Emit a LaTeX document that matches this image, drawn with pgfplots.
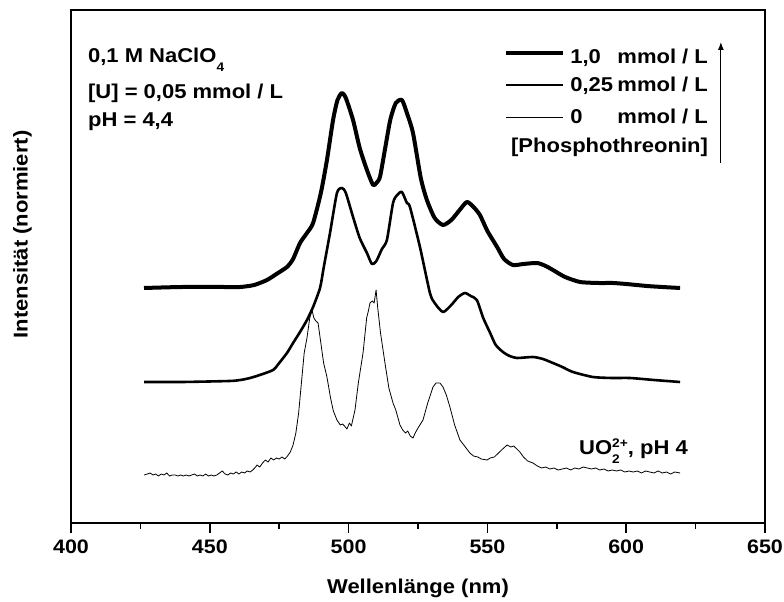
\documentclass[border=0pt]{standalone}
\usepackage{pgfplots}
\pgfplotsset{compat=1.18}
\usetikzlibrary{arrows.meta}
\usepackage{fontspec}
\setmainfont{Liberation Sans}[FakeStretch=1.1]

\newcommand{\lblfont}{\fontsize{20bp}{24bp}\selectfont\bfseries}
\newcommand{\tickfont}{\fontsize{19.5bp}{23bp}\selectfont\bfseries}
\newcommand{\scr}[1]{{\fontsize{12.5bp}{14bp}\selectfont #1}}
\newcommand{\lowidx}[1]{\raisebox{-9bp}{\scr{#1}}}
\newcommand{\highidx}[1]{\raisebox{7bp}{\scr{#1}}}

% Emission spectra, 1.0 mmol/L phosphothreonine (vertically offset)
\pgfplotstableread{
x y
426.3 2.35
440 2.36
455 2.36
461 2.36
466 2.38
470.6 2.43
474 2.49
477.8 2.56
480 2.64
482.5 2.80
485 2.90
487.2 3.00
490 3.30
492.2 3.63
494.4 4.03
496 4.23
497.6 4.30
499 4.25
501.6 4.03
504 3.75
506.6 3.53
508.8 3.38
510 3.40
511.3 3.46
513 3.72
515 4.03
517 4.20
519.2 4.23
521 4.10
523.2 3.90
526 3.45
528.2 3.23
531 3.05
534.0 2.98
537 3.03
540 3.13
542.6 3.21
545 3.16
547.3 3.08
550 2.92
553.5 2.76
556 2.64
559.2 2.58
563 2.59
567.9 2.60
571 2.57
573.6 2.53
578 2.46
583.4 2.41
590 2.40
595.2 2.40
600 2.39
607.5 2.37
613 2.36
619.4 2.35
}\tabHigh

% 0.25 mmol/L phosphothreonine
\pgfplotstableread{
x y
426.3 1.41
440 1.41
457 1.42
461 1.43
464.5 1.45
468 1.48
472.8 1.53
475 1.60
477.8 1.70
480 1.80
482.5 1.91
485 2.03
487.2 2.16
489.7 2.35
491 2.55
493.3 2.90
495.8 3.30
497.6 3.35
499 3.30
501.6 3.06
504 2.85
506.6 2.70
508.4 2.59
510 2.62
512 2.74
513.8 2.83
516 3.20
517.5 3.28
519.2 3.31
521 3.20
522.1 3.16
525.7 2.76
529.3 2.30
531 2.20
534.0 2.11
537 2.18
539.5 2.26
541.9 2.30
544 2.27
546.2 2.23
548.5 2.05
551 1.90
553 1.78
555.6 1.71
558 1.67
560.7 1.65
566.4 1.66
570 1.64
573.6 1.60
577 1.56
580.8 1.51
588 1.46
595 1.45
601.4 1.45
610 1.43
619.4 1.41
}\tabMid

% free uranyl, no ligand
\pgfplotstableread{
x y
426.3 0.48
427.5 0.49
428.5 0.50
429.5 0.48
430.5 0.49
431.5 0.47
432.5 0.49
433.5 0.48
434.5 0.50
435.5 0.47
436.5 0.48
437.5 0.48
438.5 0.47
439.5 0.48
440.5 0.47
441.5 0.48
442.5 0.47
443.5 0.48
444.5 0.49
445.5 0.47
446.5 0.48
447.5 0.47
448.5 0.49
449.5 0.47
450.5 0.48
451.5 0.47
452.5 0.48
453.5 0.50
454.5 0.52
455.5 0.49
456.5 0.48
457.5 0.50
458.5 0.49
459.5 0.51
460.5 0.49
461.5 0.51
462.5 0.50
463.5 0.52
464.5 0.51
465.5 0.53
466.5 0.56
467 0.58
468 0.56
469 0.60
470 0.63
471 0.61
472 0.65
473 0.63
474 0.65
475 0.64
476 0.66
477 0.64
478 0.67
479 0.71
480 0.78
481 0.90
482 1.10
483 1.40
484 1.70
485 1.85
486 2.05
486.8 2.13
487.5 2.05
488.2 2.02
489 2.00
490 1.80
491 1.60
492.2 1.46
493.5 1.25
494.5 1.12
495.8 1.03
497 0.98
497.8 0.99
498.5 0.97
499.4 0.94
500.3 1.00
501 0.97
502.3 1.13
503.5 1.40
505.2 1.70
506.5 2.05
507.2 2.13
507.7 2.20
508.5 2.22
509.2 2.20
509.9 2.33
510.5 2.15
511.5 1.90
513.1 1.60
514.5 1.35
516.0 1.20
517 1.13
518.5 0.98
519.5 0.93
520.5 0.90
521.3 0.92
522.2 0.87
523.2 0.85
524 0.90
525 0.95
526.8 1.03
528.5 1.20
530.4 1.36
531.5 1.40
532.9 1.40
534 1.36
535.2 1.28
536.5 1.16
538.2 0.98
540.1 0.83
541.5 0.78
543.7 0.70
545 0.67
546.5 0.66
547.8 0.64
549.9 0.63
551 0.65
552.5 0.66
554 0.70
555.5 0.74
557.1 0.78
558.5 0.76
559.5 0.77
561.7 0.71
563 0.66
564.5 0.62
566.4 0.60
568 0.57
569.5 0.55
571 0.56
572.5 0.54
574 0.55
575.5 0.53
577 0.54
578.5 0.55
580 0.53
581.5 0.55
583 0.54
584.5 0.56
586 0.55
587.5 0.54
589 0.55
590.5 0.53
592 0.54
593.5 0.52
595 0.53
596.5 0.52
598 0.53
599.5 0.51
601 0.52
602.5 0.51
604 0.52
605.5 0.50
607 0.52
608.5 0.51
610 0.50
611.5 0.52
613 0.50
614.5 0.51
616 0.49
617.5 0.51
619.4 0.50
}\tabFree

\begin{document}
\begin{tikzpicture}
\begin{axis}[
  width=694bp, height=513bp, scale only axis,
  xmin=400, xmax=650, ymin=0, ymax=5.13,
  xtick={400,450,...,650},
  minor xtick={425,475,...,625},
  ytick=\empty,
  xtick pos=bottom,
  tick align=outside,
  major tick length=10bp,
  minor tick length=6bp,
  every tick/.style={black, line width=1.5bp},
  axis line style={line width=1.8bp},
  /pgf/number format/assume math mode=true,
  xticklabel style={font=\tickfont, yshift=-3bp},
  clip=false,
]
\coordinate (SW) at (rel axis cs:0,0);

\addplot[black, line width=4bp, line join=round, smooth, tension=0.4] table[x=x,y=y] {\tabHigh};
\addplot[black, line width=2.6bp, line join=round, smooth, tension=0.4] table[x=x,y=y] {\tabMid};
\addplot[black, line width=0.8bp, line join=round] table[x=x,y=y] {\tabFree};

% conditions
\node[anchor=base west, font=\lblfont, inner sep=0pt] at (axis cs:406.1,4.60) {0,1 M NaClO\lowidx{4}};
\node[anchor=base west, font=\lblfont, inner sep=0pt] at (axis cs:406.1,4.24) {[U] = 0,05 mmol / L};
\node[anchor=base west, font=\lblfont, inner sep=0pt] at (axis cs:406.1,3.96) {pH = 4,4};

% key
\draw[line width=4bp]   (axis cs:556.7,4.70) -- (axis cs:577.2,4.70);
\draw[line width=2.6bp] (axis cs:556.7,4.38) -- (axis cs:577.2,4.38);
\draw[line width=0.8bp] (axis cs:556.7,4.06) -- (axis cs:577.2,4.06);
\node[anchor=base west, font=\lblfont, inner sep=0pt] at (axis cs:579.8,4.59) {1,0};
\node[anchor=base west, font=\lblfont, inner sep=0pt] at (axis cs:579.8,4.31) {0,25};
\node[anchor=base west, font=\lblfont, inner sep=0pt] at (axis cs:579.8,3.99) {0};
\node[anchor=base east, font=\lblfont, inner sep=0pt] at (axis cs:629.5,4.59) {mmol / L};
\node[anchor=base east, font=\lblfont, inner sep=0pt] at (axis cs:629.5,4.31) {mmol / L};
\node[anchor=base east, font=\lblfont, inner sep=0pt] at (axis cs:629.5,3.99) {mmol / L};
\node[anchor=base east, font=\lblfont, inner sep=0pt] at (axis cs:629.5,3.70) {[Phosphothreonin]};
\draw[line width=1bp, -{Latex[length=8bp,width=6bp]}] (axis cs:634.1,3.60) -- (axis cs:634.1,4.81);

\node[anchor=base west, font=\lblfont, inner sep=0pt] at (axis cs:583.0,0.69)
  {UO\makebox[0pt][l]{\highidx{2+}}\lowidx{2}\hphantom{\scr{+}}, pH 4};
\end{axis}

\node[rotate=90, font=\lblfont, inner sep=0pt] at ([shift={(-48.5bp,288.5bp)}]SW) {Intensität (normiert)};
\node[anchor=base, font=\lblfont, inner sep=0pt] at ([shift={(347bp,-70bp)}]SW) {Wellenlänge (nm)};

\pgfresetboundingbox
\path[use as bounding box] ([shift={(-71bp,-79bp)}]SW) rectangle ++(784bp,602bp);
\end{tikzpicture}
\end{document}
